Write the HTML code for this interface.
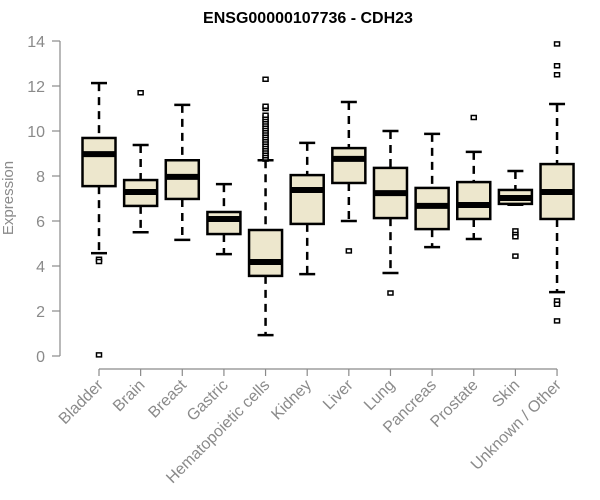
<!DOCTYPE html>
<html><head><meta charset="utf-8"><style>
html,body{margin:0;padding:0;background:#fff;}
svg{display:block;font-family:"Liberation Sans",Arial,sans-serif;}
</style></head><body>
<svg id="chart" width="600" height="500">
<text x="308" y="23" text-anchor="middle" font-weight="bold" font-size="16" fill="#000">ENSG00000107736 - CDH23</text>
<text transform="translate(13,198) rotate(-90)" text-anchor="middle" font-size="15" fill="#8a8a8a">Expression</text>
</svg>
<script>
const categories=["Bladder","Brain","Breast","Gastric","Hematopoietic cells","Kidney","Liver","Lung","Pancreas","Prostate","Skin","Unknown / Other"];
const whiskerLow=[4.57,5.5,5.16,4.53,0.93,3.64,6.0,3.69,4.84,5.2,6.72,2.84];
const q1Values=[7.55,6.67,6.98,5.42,3.56,5.87,7.69,6.13,5.64,6.09,6.76,6.09];
const medianValues=[8.97,7.29,7.96,6.09,4.18,7.38,8.76,7.24,6.67,6.71,7.02,7.29];
const q3Values=[9.69,7.82,8.7,6.4,5.6,8.04,9.24,8.36,7.47,7.73,7.38,8.53];
const whiskerHigh=[12.13,9.38,11.16,7.64,8.7,9.47,11.29,10.0,9.87,9.07,8.22,11.2];
const outliers=[[4.3,4.2,0.05],[11.7],[],[],[8.75,8.8,8.9,9.0,9.1,9.2,9.3,9.4,9.5,9.6,9.7,9.8,9.9,10.0,10.1,10.2,10.3,10.4,10.5,10.6,10.7,11.0,11.1,12.3],[],[4.67],[2.8],[],[10.6],[5.56,5.4,5.3,4.44],[13.87,12.9,12.5,2.45,2.3,1.56]];
const yTicks=[0,2,4,6,8,10,12,14];

const NS="http://www.w3.org/2000/svg";
const svg=document.getElementById("chart");
const y=v=>356-v*22.5;
const x=i=>99+i*41.64;
const hw=16.5;
function mk(tag,attrs,parent){const e=document.createElementNS(NS,tag);for(const k in attrs)e.setAttribute(k,attrs[k]);(parent||svg).appendChild(e);return e;}
const grey="#8a8a8a";
mk("line",{x1:60,y1:y(0),x2:60,y2:y(14),stroke:grey,"stroke-width":1.2});
yTicks.forEach(t=>{
 mk("line",{x1:52,y1:y(t),x2:60,y2:y(t),stroke:grey,"stroke-width":1.2});
 const tx=mk("text",{x:45,y:y(t)+6,"text-anchor":"end","font-size":16,fill:grey});
 tx.textContent=t;
 
 
});
mk("line",{x1:x(0),y1:369,x2:x(11),y2:369,stroke:grey,"stroke-width":1.2});
categories.forEach((c,i)=>{
 mk("line",{x1:x(i),y1:369,x2:x(i),y2:376,stroke:grey,"stroke-width":1.2});
 const tx=mk("text",{transform:`translate(${x(i)+5},${386}) rotate(-45)`,"text-anchor":"end","font-size":16,fill:grey});
 tx.textContent=c;
 
 
});
categories.forEach((c,i)=>{
 const g=mk("g",{});
 
 
 const cx=x(i);
 mk("line",{x1:cx,y1:y(whiskerHigh[i]),x2:cx,y2:y(q3Values[i]),stroke:"#000","stroke-width":2.5,"stroke-dasharray":"8,6"},g);
 mk("line",{x1:cx,y1:y(q1Values[i]),x2:cx,y2:y(whiskerLow[i]),stroke:"#000","stroke-width":2.5,"stroke-dasharray":"8,6"},g);
 mk("line",{x1:cx-8,y1:y(whiskerHigh[i]),x2:cx+8,y2:y(whiskerHigh[i]),stroke:"#000","stroke-width":2.5},g);
 mk("line",{x1:cx-8,y1:y(whiskerLow[i]),x2:cx+8,y2:y(whiskerLow[i]),stroke:"#000","stroke-width":2.5},g);
 mk("rect",{x:cx-hw,y:y(q3Values[i]),width:hw*2,height:y(q1Values[i])-y(q3Values[i]),fill:"#ede7cd",stroke:"#000","stroke-width":2.5},g);
 mk("line",{x1:cx-hw,y1:y(medianValues[i]),x2:cx+hw,y2:y(medianValues[i]),stroke:"#000","stroke-width":6},g);
 outliers[i].forEach(o=>{
  mk("rect",{x:cx-2.5,y:y(o)-2,width:5,height:4,fill:"#fff",stroke:"#000","stroke-width":1.5},g);
 });
});
</script>
</body></html>
